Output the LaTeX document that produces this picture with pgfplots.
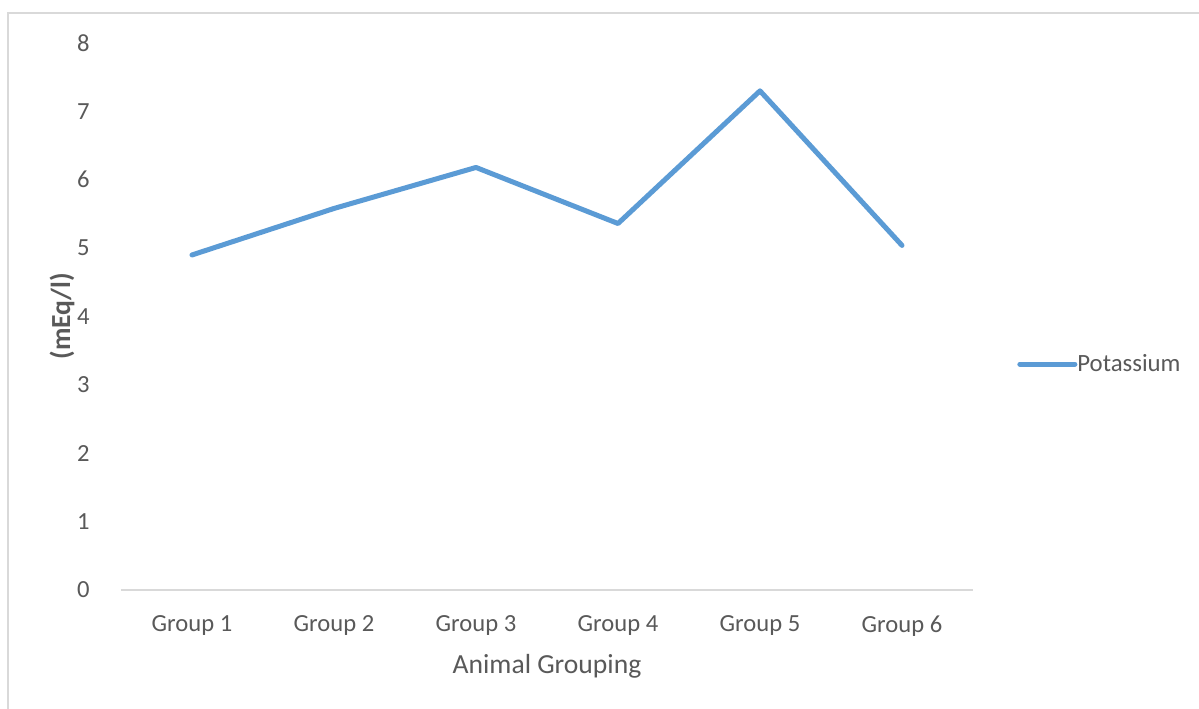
\documentclass[border=0pt]{standalone}
\usepackage{fontspec}
\setmainfont{Carlito}
\usepackage{pgfplots}
\pgfplotsset{compat=1.18}
\definecolor{potblue}{HTML}{5B9BD5}
\definecolor{txtgray}{HTML}{595959}
\definecolor{framegray}{HTML}{D9D9D9}
\begin{document}
\begin{tikzpicture}[x=1pt,y=1pt]
% page area and chart frame
\useasboundingbox (-60.5,-59) rectangle (539,295);
\fill[white] (-60.5,-59) rectangle (539,295);
\draw[framegray, line width=0.8pt] (-56.5,-70) -- (-56.5,288.5) -- (550,288.5);
\begin{axis}[
  at={(0,0)}, anchor=south west,
  scale only axis,
  width=426pt, height=273.5pt,
  xmin=-0.5, xmax=5.5,
  ymin=0, ymax=8,
  ytick={0,1,...,8},
  xtick={0,1,2,3,4,5},
  xticklabels={Group 1,Group 2,Group 3,Group 4,Group 5,Group 6},
  major tick length=0pt,
  axis line style={draw=none},
  axis x line*=bottom,
  axis y line*=left,
  x axis line style={draw=framegray, line width=0.8pt},
  /pgf/number format/assume math mode=true,
  tick label style={font=\fontsize{12.3}{14}\selectfont, text=txtgray, inner sep=0pt},
  yticklabel style={anchor=east, xshift=-15.5pt},
  xticklabel style={anchor=north, yshift=-12.5pt},
  xlabel={Animal Grouping},
  xlabel style={at={(axis description cs:0.5,0)}, anchor=north, yshift=-32pt, inner sep=0pt,
    font=\fontsize{13.8}{16}\selectfont, text=txtgray},
  ylabel={(mEq/l)},
  ylabel style={at={(axis description cs:-0.0693,0.5)}, anchor=center, inner sep=0pt,
    font=\fontsize{13.8}{16}\selectfont\bfseries, text=txtgray},
  legend style={at={(axis description cs:1.0516,0.413)}, anchor=west, draw=none, fill=none,
    inner sep=0pt, font=\fontsize{12.4}{14}\selectfont, text=txtgray,
    nodes={inner sep=0pt}},
  legend image code/.code={\draw[#1] (0pt,0pt) -- (27.5pt,0pt);},
  legend cell align=left,
  /tikz/every even column/.append style={column sep=2.5pt},
]
\addplot[color=potblue, line width=2.5pt, line join=round, line cap=round]
  coordinates {(0,4.90) (1,5.58) (2,6.18) (3,5.36) (4,7.30) (5,5.04)};
\addlegendentry{Potassium}
\end{axis}
\end{tikzpicture}
\end{document}
